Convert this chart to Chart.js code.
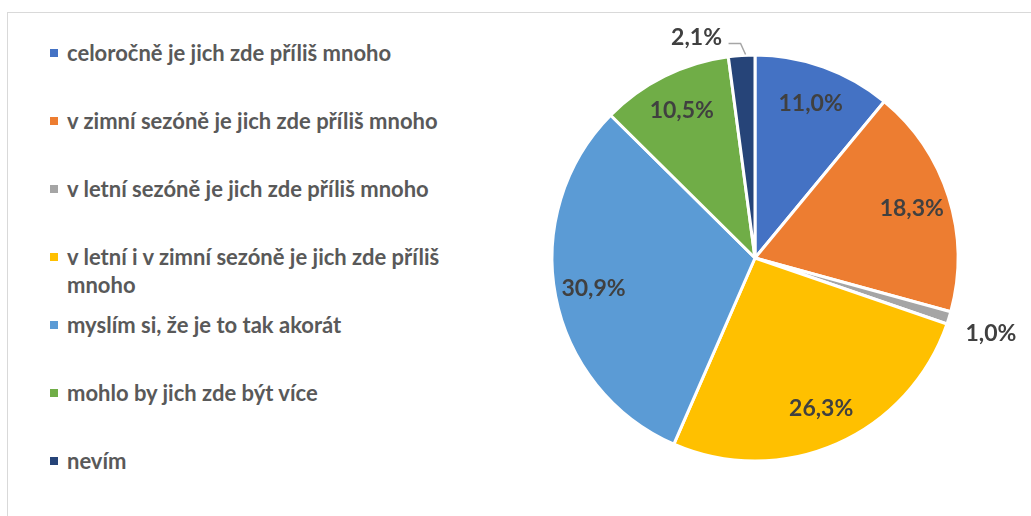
<!DOCTYPE html>
<html>
<head>
<meta charset="utf-8">
<script src="https://cdn.jsdelivr.net/npm/chart.js@4.4.1/dist/chart.umd.min.js"></script>
<style>
  html, body { margin: 0; padding: 0; background: #fff; }
  body { width: 1031px; height: 516px; position: relative; overflow: hidden; font-family: Lato, "Open Sans", sans-serif; }
  #frame { position: absolute; left: 7px; top: 12px; right: -10px; bottom: -10px; border: 1px solid #d9d9d9; }
  #legend { position: absolute; left: 50px; top: 39px; width: 420px; }
  .item { position: relative; height: 68px; padding-left: 17px; font-weight: 700; font-size: 22px; line-height: 28px; color: #595959; }
  .item .box { position: absolute; left: 0; top: 10px; width: 8px; height: 8px; }
  #wrap { position: absolute; left: 0; top: 0; width: 1031px; height: 516px; }
</style>
</head>
<body>
<div id="frame"></div>
<div id="legend"></div>
<div id="wrap"><canvas id="graf"></canvas></div>
<script>
const kategorie = [
  "celoročně je jich zde příliš mnoho",
  "v zimní sezóně je jich zde příliš mnoho",
  "v letní sezóně je jich zde příliš mnoho",
  "v letní i v zimní sezóně je jich zde příliš mnoho",
  "myslím si, že je to tak akorát",
  "mohlo by jich zde být více",
  "nevím",
];
const hodnoty = [11.0, 18.3, 1.0, 26.3, 30.9, 10.5, 2.1];
const barvy = ["#4472C4", "#ED7D31", "#A5A5A5", "#FFC000", "#5B9BD5", "#70AD47", "#264478"];

// legenda vlevo
const legenda = document.getElementById("legend");
kategorie.forEach(function (k, i) {
  const el = document.createElement("div");
  el.className = "item";
  el.innerHTML = '<span class="box" style="background:' + barvy[i] + '"></span>' + k;
  legenda.appendChild(el);
});

function formatPct(v) {
  return v.toFixed(1).replace(".", ",") + "%";
}

const popisky = {
  id: "popisky",
  afterDatasetsDraw(chart) {
    const ctx = chart.ctx;
    const meta = chart.getDatasetMeta(0);
    ctx.save();
    ctx.font = "bold 23px Lato, 'Open Sans', sans-serif";
    ctx.fillStyle = "#404040";
    ctx.textAlign = "center";
    ctx.textBaseline = "middle";
    meta.data.forEach(function (arc, i) {
      const p = arc.getProps(["x", "y", "startAngle", "endAngle", "outerRadius"], true);
      const mid = (p.startAngle + p.endAngle) / 2;
      const cos = Math.cos(mid), sin = Math.sin(mid);
      const text = formatPct(hodnoty[i]);
      if (i === 2) {
        const ex = p.x + cos * p.outerRadius, ey = p.y + sin * p.outerRadius;
        ctx.fillText(text, ex + 42, ey + 16);
      } else if (i === 6) {
        const ex = p.x + cos * (p.outerRadius + 1), ey = p.y + sin * (p.outerRadius + 1);
        ctx.strokeStyle = "#a6a6a6";
        ctx.lineWidth = 1.5;
        ctx.beginPath();
        ctx.moveTo(ex + 4, ey);
        ctx.lineTo(ex - 1, ey - 11);
        ctx.lineTo(ex - 13, ey - 11);
        ctx.stroke();
        ctx.fillText(text, ex - 45, ey - 17);
      } else {
        const r = p.outerRadius * 0.81;
        ctx.fillText(text, p.x + cos * r, p.y + sin * r);
      }
    });
    ctx.restore();
  },
};

new Chart(document.getElementById("graf"), {
  type: "pie",
  data: {
    labels: kategorie,
    datasets: [
      {
        data: hodnoty,
        backgroundColor: barvy,
        borderColor: "#ffffff",
        borderWidth: 3,
        radius: 203,
      },
    ],
  },
  options: {
    responsive: true,
    maintainAspectRatio: false,
    animation: false,
    layout: { padding: { left: 479, right: 0, top: 0, bottom: 0 } },
    plugins: {
      legend: { display: false },
      tooltip: { enabled: false },
    },
  },
  plugins: [popisky],
});
</script>
</body>
</html>
